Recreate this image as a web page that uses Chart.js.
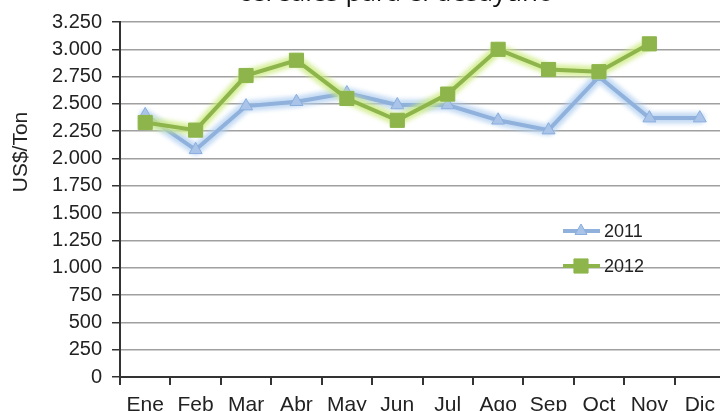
<!DOCTYPE html>
<html>
<head>
<meta charset="utf-8">
<script src="https://cdn.jsdelivr.net/npm/chart.js@4.4.0/dist/chart.umd.min.js"></script>
<style>
  html, body { margin: 0; padding: 0; background: #fff; overflow: hidden; }
  #wrap { position: absolute; left: 0; top: 0; width: 740px; height: 422px; }
</style>
</head>
<body>
<div id="wrap"><canvas id="precioChart"></canvas></div>
<script>
// meses y precios (US$/Ton)
var meses = ['Ene', 'Feb', 'Mar', 'Abr', 'May', 'Jun', 'Jul', 'Ago', 'Sep', 'Oct', 'Nov', 'Dic'];
var precios2011 = [2400, 2080, 2480, 2520, 2600, 2490, 2490, 2350, 2260, 2750, 2370, 2370];
var precios2012 = [2330, 2260, 2760, 2900, 2550, 2350, 2590, 3000, 2815, 2795, 3050, null];
var titulo = 'cereales para el desayuno';
var ejeY = 'US$/Ton';

var azul = '#8fb1db';
var verde = '#8db54b';
var halos = ['rgba(175,205,240,0.75)', 'rgba(205,235,130,0.8)'];
var fuente = '"Liberation Sans", Arial, sans-serif';

// numbers with a dot as thousands separator
function formatoMiles(v) {
    return String(v).replace(/\B(?=(\d{3})+(?!\d))/g, '.');
}

// soft halo behind each series, following the points the scales placed
var resplandor = {
    id: 'resplandor',
    beforeDatasetDraw: function (chart, args) {
        var ctx = chart.ctx;
        var pts = args.meta.data.filter(function (p) { return !p.skip; });
        ctx.save();
        ctx.filter = 'blur(2px)';
        ctx.strokeStyle = halos[args.index];
        ctx.lineWidth = 11;
        ctx.lineJoin = 'round';
        ctx.lineCap = 'round';
        ctx.beginPath();
        pts.forEach(function (p, i) {
            if (i === 0) ctx.moveTo(p.x, p.y); else ctx.lineTo(p.x, p.y);
        });
        ctx.stroke();
        ctx.restore();
    }
};

// title, axis caption and the legend inside the plot
var textos = {
    id: 'textos',
    afterDraw: function (chart) {
        var ctx = chart.ctx;
        ctx.save();
        ctx.fillStyle = '#111';
        ctx.font = '26px "Open Sans", sans-serif';
        ctx.textAlign = 'center';
        ctx.textBaseline = 'alphabetic';
        ctx.fillText(titulo, 396, 1);

        ctx.translate(21, 152);
        ctx.rotate(-Math.PI / 2);
        ctx.font = '21px ' + fuente;
        ctx.textBaseline = 'middle';
        ctx.fillStyle = '#222';
        ctx.fillText(ejeY, 0, 0);
        ctx.restore();

        var items = [
            { ds: chart.data.datasets[0], y: 231, estilo: 'triangle', r: 7 },
            { ds: chart.data.datasets[1], y: 266, estilo: 'rect', r: 10 }
        ];
        items.forEach(function (it) {
            ctx.save();
            ctx.strokeStyle = it.ds.borderColor;
            ctx.lineWidth = 4;
            ctx.beginPath();
            ctx.moveTo(563, it.y);
            ctx.lineTo(600, it.y);
            ctx.stroke();
            ctx.fillStyle = it.ds.pointBackgroundColor;
            ctx.strokeStyle = it.ds.pointBorderColor;
            ctx.lineWidth = 1;
            Chart.helpers.drawPoint(ctx, { pointStyle: it.estilo, radius: it.r, borderWidth: 1 }, 581, it.y);
            ctx.fillStyle = '#222';
            ctx.font = '18px ' + fuente;
            ctx.textAlign = 'left';
            ctx.textBaseline = 'middle';
            ctx.fillText(it.ds.label, 604, it.y + 1);
            ctx.restore();
        });
    }
};

var ctx = document.getElementById('precioChart').getContext('2d');
var precioChart = new Chart(ctx, {
    type: 'line',
    data: {
        labels: meses,
        datasets: [{
            label: '2011',
            data: precios2011,
            borderColor: azul,
            borderWidth: 4,
            pointStyle: 'triangle',
            pointRadius: 7.5,
            pointBackgroundColor: '#a9c4e8',
            pointBorderColor: '#8aaede',
            pointBorderWidth: 1,
            tension: 0,
            order: 2
        }, {
            label: '2012',
            data: precios2012,
            borderColor: verde,
            borderWidth: 4,
            pointStyle: 'rect',
            pointRadius: 10,
            pointBackgroundColor: verde,
            pointBorderColor: verde,
            pointBorderWidth: 1,
            tension: 0,
            order: 1
        }]
    },
    options: {
        responsive: true,
        maintainAspectRatio: false,
        animation: false,
        layout: { padding: { top: 19, right: 15, left: 0, bottom: 0 } },
        plugins: {
            legend: { display: false },
            tooltip: { enabled: false }
        },
        scales: {
            x: {
                offset: true,
                afterFit: function (s) { s.height = 422 - 19 - 358; },
                grid: {
                    offset: true,
                    drawOnChartArea: false,
                    tickLength: 8,
                    tickColor: '#333',
                    lineWidth: 2
                },
                border: { color: '#333', width: 2 },
                ticks: {
                    color: '#222',
                    padding: 8,
                    maxRotation: 0,
                    autoSkip: false,
                    font: { family: '"Liberation Sans Narrow", "Liberation Sans", Arial, sans-serif', size: 21 }
                }
            },
            y: {
                min: 0,
                max: 3250,
                afterFit: function (s) { s.width = 120; },
                grid: {
                    color: '#a0a0a0',
                    lineWidth: 1.5,
                    tickLength: 8,
                    tickColor: '#333'
                },
                border: { color: '#333', width: 2 },
                ticks: {
                    stepSize: 250,
                    color: '#222',
                    padding: 10,
                    font: { family: fuente, size: 20 },
                    callback: function (v) { return formatoMiles(v); }
                }
            }
        }
    },
    plugins: [resplandor, textos]
});
</script>
</body>
</html>
